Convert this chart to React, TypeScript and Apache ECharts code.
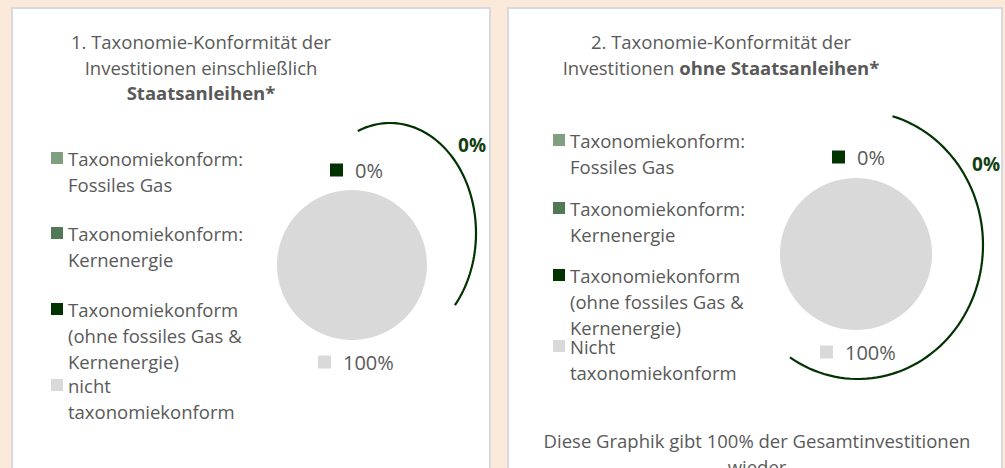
import React, { useEffect, useRef } from "react";
import * as echarts from "echarts";

// ---- data ----
const categories = [
  "Taxonomiekonform: Fossiles Gas",
  "Taxonomiekonform: Kernenergie",
  "Taxonomiekonform (ohne fossiles Gas & Kernenergie)",
  "nicht taxonomiekonform",
];
const legendLabels1 = [
  "Taxonomiekonform:\nFossiles Gas",
  "Taxonomiekonform:\nKernenergie",
  "Taxonomiekonform\n(ohne fossiles Gas &\nKernenergie)",
  "nicht\ntaxonomiekonform",
];
const legendLabels2 = [
  "Taxonomiekonform:\nFossiles Gas",
  "Taxonomiekonform:\nKernenergie",
  "Taxonomiekonform\n(ohne fossiles Gas &\nKernenergie)",
  "Nicht\ntaxonomiekonform",
];
const valuesInclBonds = [0, 0, 0, 100];
const valuesExclBonds = [0, 0, 0, 100];
const colors = ["#7F9F80", "#4F7A55", "#003300", "#D9D9D9"];
const title1 = "1. Taxonomie-Konformität der\nInvestitionen einschließlich\n{b|Staatsanleihen*}";
const title2 = "2. Taxonomie-Konformität der\nInvestitionen {b|ohne Staatsanleihen*}";
const footer = "Diese Graphik gibt 100% der Gesamtinvestitionen\nwieder";

// ---- styles / layout ----
const FONT = "'Open Sans', sans-serif";
const TEXT = "#595959";
const DARK = "#003300";
const FS = 18.5;
const LH = 26;

const panels = [
  {
    values: valuesInclBonds,
    legend: legendLabels1,
    rect: { x: 12, y: 8, w: 478 },
    title: title1,
    titleX: 201,
    titleY: 42,
    legendX: 51,
    legendYs: [158, 233, 309, 385],
    center: [352, 265],
    r: 75,
    labelPos: { 2: [330, 170], 3: [318, 362] } as Record<number, number[]>,
    ell: { cx: 390, cy: 233, rx: 86, ry: 110, a0: -112, a1: 41 },
    sumPos: [472, 145],
  },
  {
    values: valuesExclBonds,
    legend: legendLabels2,
    rect: { x: 508, y: 8, w: 494 },
    title: title2,
    titleX: 721,
    titleY: 42,
    legendX: 553,
    legendYs: [140, 208, 275, 346],
    center: [856, 254],
    r: 76,
    labelPos: { 2: [832, 157], 3: [820, 352] } as Record<number, number[]>,
    ell: { cx: 858, cy: 245, rx: 125, ry: 134, a0: -74, a1: 123 },
    sumPos: [986, 164],
  },
];

function ellipsePoints(e: { cx: number; cy: number; rx: number; ry: number; a0: number; a1: number }) {
  const pts: number[][] = [];
  const n = 80;
  for (let i = 0; i <= n; i++) {
    const a = ((e.a0 + ((e.a1 - e.a0) * i) / n) * Math.PI) / 180;
    pts.push([e.cx + e.rx * Math.cos(a), e.cy + e.ry * Math.sin(a)]);
  }
  return pts;
}

export default function App() {
  const ref = useRef<HTMLDivElement>(null);
  useEffect(() => {
    document.body.style.margin = "0";
    if (!ref.current) return;
    const chart = echarts.init(ref.current, undefined, { renderer: "svg" });

    const graphic: any[] = [
      { type: "rect", z: 0, shape: { x: 0, y: 0, width: 1005, height: 468 }, style: { fill: "#FBE9D9" } },
    ];
    const series: any[] = [];

    panels.forEach((p) => {
      graphic.push({
        type: "rect",
        z: 1,
        shape: { x: p.rect.x, y: p.rect.y, width: p.rect.w, height: 480 },
        style: { fill: "#FFFFFF", stroke: "#D6DBE2", lineWidth: 2 },
      });
      graphic.push({
        type: "text",
        z: 5,
        x: p.titleX,
        y: p.titleY - LH / 2,
        style: {
          text: p.title,
          fill: TEXT,
          fontSize: FS,
          fontFamily: FONT,
          lineHeight: LH - 0.5,
          align: "center",
          verticalAlign: "top",
          rich: { b: { fontWeight: "bold", fontSize: FS, fontFamily: FONT, fill: TEXT, lineHeight: LH - 0.5 } },
        },
      });
      p.legend.forEach((lab, i) => {
        const y = p.legendYs[i];
        graphic.push({
          type: "rect",
          z: 5,
          shape: { x: p.legendX, y: y - 6, width: 12, height: 12 },
          style: { fill: colors[i] },
        });
        lab.split("\n").forEach((line, k) => {
          graphic.push({
            type: "text",
            z: 5,
            x: p.legendX + 17,
            y: y + k * 26.3,
            style: {
              text: line,
              fill: TEXT,
              fontSize: FS,
              fontFamily: FONT,
              lineHeight: 18,
              align: "left",
              verticalAlign: "middle",
            },
          });
        });
      });
      graphic.push({
        type: "polyline",
        z: 5,
        shape: { points: ellipsePoints(p.ell) },
        style: { stroke: DARK, lineWidth: 2.2, fill: null },
      });
      const aligned = p.values.slice(0, 3).reduce((a, b) => a + b, 0);
      graphic.push({
        type: "text",
        z: 5,
        x: p.sumPos[0],
        y: p.sumPos[1],
        style: {
          text: `${aligned}%`,
          fill: "#123F12",
          fontSize: 19,
          fontWeight: "bold",
          fontFamily: FONT,
          align: "center",
          verticalAlign: "middle",
        },
      });

      series.push({
        type: "pie",
        center: p.center,
        radius: p.r,
        startAngle: 90,
        clockwise: true,
        silent: true,
        itemStyle: { borderWidth: 0 },
        labelLine: { show: false },
        data: categories.map((name, i) => ({
          name,
          value: p.values[i],
          itemStyle: { color: colors[i] },
          label: { show: i >= 2 },
        })),
        label: {
          position: "outside",
          formatter: (prm: any) => `{sq${prm.dataIndex}|}{gap|}{v|${prm.value}%}`,
          rich: {
            sq2: { width: 13, height: 13, backgroundColor: colors[2] },
            sq3: { width: 13, height: 13, backgroundColor: colors[3] },
            gap: { width: 12 },
            v: { fontSize: 20, fontFamily: FONT, color: TEXT },
          },
        },
        labelLayout: (prm: any) => {
          const pos = p.labelPos[prm.dataIndex];
          if (!pos) return {};
          return { x: pos[0], y: pos[1], align: "left", verticalAlign: "middle" };
        },
      });
    });

    graphic.push({
      type: "text",
      z: 5,
      x: 757,
      y: 440 - LH / 2,
      style: {
        text: footer,
        fill: TEXT,
        fontSize: FS,
        fontFamily: FONT,
        lineHeight: LH,
        align: "center",
        verticalAlign: "top",
      },
    });

    chart.setOption({
      animation: false,
      backgroundColor: "#FBE9D9",
      graphic,
      series,
    });
    return () => chart.dispose();
  }, []);
  return <div ref={ref} style={{ width: 1005, height: 468 }} />;
}
